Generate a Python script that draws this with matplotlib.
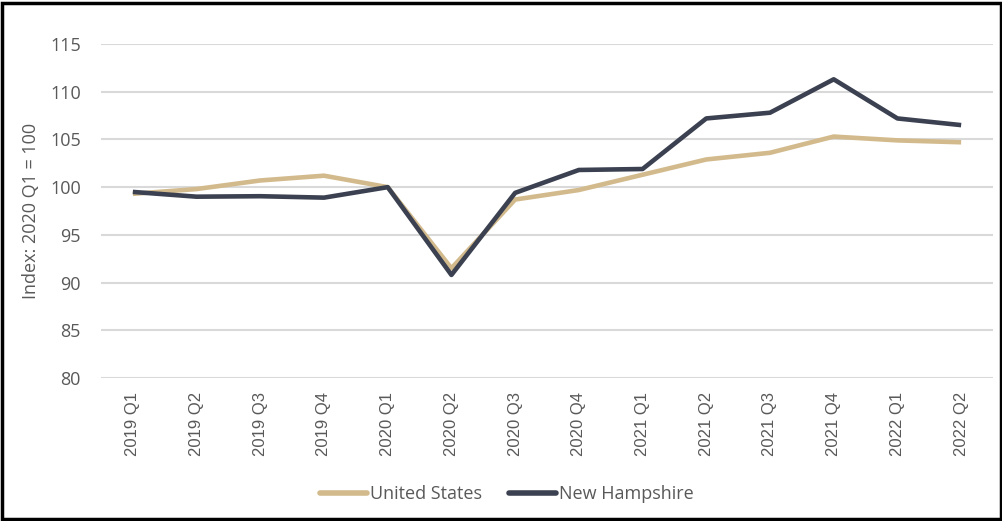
import matplotlib
matplotlib.use("Agg")
import matplotlib.pyplot as plt
from matplotlib.patches import Rectangle

quarters = ["2019 Q1", "2019 Q2", "2019 Q3", "2019 Q4", "2020 Q1", "2020 Q2", "2020 Q3",
            "2020 Q4", "2021 Q1", "2021 Q2", "2021 Q3", "2021 Q4", "2022 Q1", "2022 Q2"]
united_states = [99.3, 99.8, 100.7, 101.2, 100.0, 91.5, 98.7, 99.7, 101.3, 102.9, 103.6, 105.3, 104.9, 104.7]
new_hampshire = [99.5, 99.0, 99.05, 98.9, 100.0, 90.8, 99.4, 101.8, 101.9, 107.2, 107.8, 111.3, 107.2, 106.5]
y_ticks = [80, 85, 90, 95, 100, 105, 110, 115]

plt.rcParams['font.family'] = ['Open Sans', 'DejaVu Sans']

fig = plt.figure(figsize=(10.03, 5.21), dpi=100)
ax = fig.add_axes([101/1003, 1 - 378/521, (993-101)/1003, (378-44)/521])

x = list(range(len(quarters)))
ax.plot(x, united_states, color="#D2BA8C", lw=3.3, solid_capstyle="butt", label="United States", zorder=3)
ax.plot(x, new_hampshire, color="#3B4150", lw=3.3, solid_capstyle="butt", label="New Hampshire", zorder=4)

ax.set_xlim(-0.5, len(quarters) - 0.5)
ax.set_ylim(80, 115)
ax.set_yticks(y_ticks)
ax.set_yticklabels([str(v) for v in y_ticks], fontsize=13, color="#595959")
ax.set_xticks(x)
ax.set_xticklabels(quarters, rotation=90, fontsize=12, color="#595959", family="Liberation Sans")
ax.tick_params(axis="both", length=0)
ax.tick_params(axis="y", pad=14.5)
ax.tick_params(axis="x", pad=10)
ax.grid(axis="y", color="#D9D9D9", lw=1.5)
ax.set_axisbelow(True)
for s in ax.spines.values():
    s.set_visible(False)
ax.set_ylabel("Index: 2020 Q1 = 100", fontsize=13, color="#595959", labelpad=7)

leg = fig.legend(loc="center", bbox_to_anchor=(0.505, 1 - 494/521), ncol=2, frameon=False,
                 fontsize=13, handlelength=2.6, handletextpad=0.17, columnspacing=1.5)
for t in leg.get_texts():
    t.set_color("#595959")
for h in leg.get_lines():
    h.set_linewidth(4.0)
    h.set_solid_capstyle("round")

fig.patches.append(Rectangle((0.0015, 0.003), 0.9965, 0.991, transform=fig.transFigure,
                             fill=False, edgecolor="black", lw=2.5, zorder=10))

fig.savefig("out.png", dpi=100)
